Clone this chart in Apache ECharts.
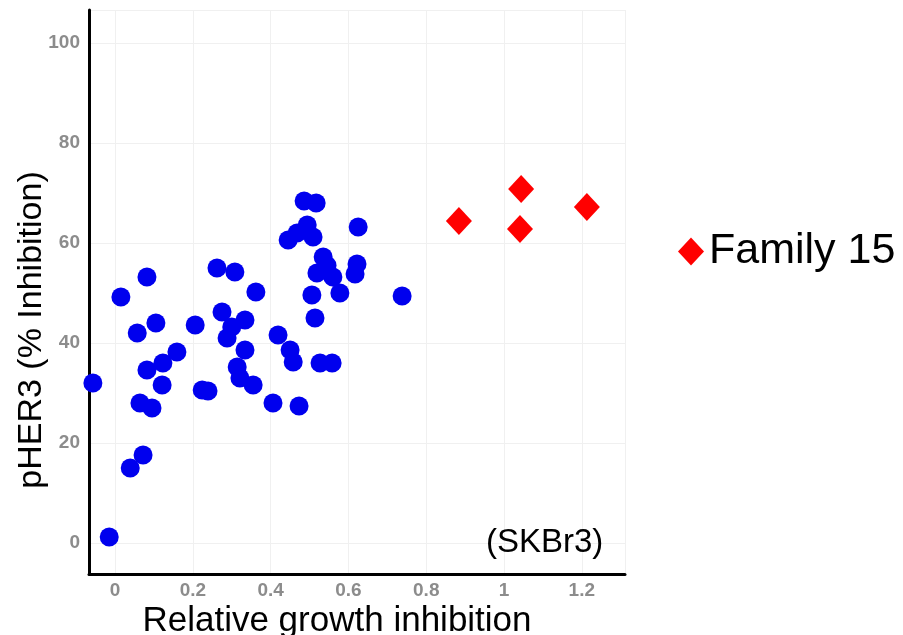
<!DOCTYPE html>
<html><head><meta charset="utf-8">
<script src="https://cdn.jsdelivr.net/npm/echarts@6/dist/echarts.min.js"></script>
<style>html,body{margin:0;padding:0;background:#fff}#c{width:903px;height:635px}</style>
</head><body><div id="c"></div>
<script>
// Other compounds (blue circles)
const otherX = [0.486,0.517,0.625,0.445,0.468,0.494,0.509,0.535,0.519,0.560,0.578,0.506,0.622,0.617,0.514,
  0.262,0.308,0.362,0.082,0.015,0.275,0.334,0.288,0.300,0.206,0.105,0.057,0.159,0.123,0.082,0.121,-0.057,
  0.334,0.314,0.321,0.355,0.419,0.450,0.458,0.527,0.558,0.224,0.239,0.064,0.095,0.406,0.473,0.072,0.039,
  -0.015,0.738,0.545];
const otherY = [68.4,68.0,63.2,60.6,62.0,63.6,61.2,57.2,54.0,53.2,50.0,49.6,55.8,53.8,45.0,
  55.0,54.2,50.2,53.2,49.2,46.2,44.6,41.0,43.2,43.6,44.0,42.0,38.2,36.0,34.6,31.6,32.0,
  38.6,35.2,33.0,31.6,41.6,38.6,36.2,36.0,36.0,30.6,30.4,28.0,27.0,28.0,27.4,17.6,15.0,
  1.2,49.4,55.5];
// Family 15 (red diamonds)
const famX = [0.884,1.044,1.041,1.213];
const famY = [64.4,70.8,62.8,67.2];
const xName = 'Relative growth inhibition';
const yName = 'pHER3 (% Inhibition)';
const seriesNames = ['Other', 'Family 15'];
const cellLabel = '(SKBr3)';

const FONT = 'Liberation Sans, Arial, sans-serif';
const chart = echarts.init(document.getElementById('c'));
const pairs = (xs, ys) => xs.map((x, i) => [x, ys[i]]);
const tickLabel = {showMinLabel: false, showMaxLabel: false, fontSize: 19, fontWeight: 'bold', color: '#8c8c8c', fontFamily: FONT};
chart.setOption({
  animation: false,
  backgroundColor: '#fff',
  grid: {left: 89, top: 10, right: 278, bottom: 61, containLabel: false, outerBoundsMode: 'none'},
  legend: {
    data: [seriesNames[1]], left: 673, top: 225, icon: 'diamond',
    itemWidth: 26, itemHeight: 28,
    textStyle: {fontSize: 43, color: '#000', fontFamily: FONT}
  },
  xAxis: {
    type: 'value', min: -0.067, max: 1.311, splitNumber: 7, minInterval: 0.2, maxInterval: 0.2,
    name: xName, nameLocation: 'middle', nameGap: 30, nameMoveOverlap: false,
    nameTextStyle: {fontSize: 35, color: '#000', fontFamily: FONT, padding: [0, 40, 0, 0]},
    axisLine: {onZero: false, lineStyle: {color: '#000', width: 3}},
    axisTick: {show: false},
    axisLabel: Object.assign({margin: 7}, tickLabel),
    splitLine: {show: true, lineStyle: {color: '#f0f0f0', width: 1}}
  },
  yAxis: {
    type: 'value', min: -6.2, max: 106.6, splitNumber: 6, minInterval: 20, maxInterval: 20,
    name: yName, nameLocation: 'middle', nameGap: 40, nameRotate: 90, nameMoveOverlap: false,
    nameTextStyle: {fontSize: 34, color: '#000', fontFamily: FONT, padding: [0, 76, 0, 0]},
    axisLine: {onZero: false, lineStyle: {color: '#000', width: 3}},
    axisTick: {show: false},
    axisLabel: Object.assign({margin: 9}, tickLabel),
    splitLine: {show: true, lineStyle: {color: '#f0f0f0', width: 1}}
  },
  graphic: [{
    type: 'text', left: 486, top: 526, z: 10,
    style: {text: cellLabel, font: '33px ' + FONT, fill: '#000'}
  }],
  series: [
    {name: seriesNames[0], type: 'scatter', symbol: 'circle', symbolSize: 19,
     itemStyle: {color: '#0000ee', opacity: 1}, data: pairs(otherX, otherY)},
    {name: seriesNames[1], type: 'scatter', symbol: 'diamond', symbolSize: [26, 28],
     itemStyle: {color: '#ff0000', opacity: 1}, data: pairs(famX, famY)}
  ]
});
</script></body></html>
